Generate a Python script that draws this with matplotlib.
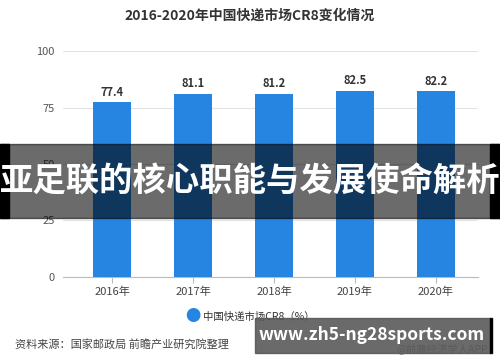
import matplotlib.pyplot as plt
from matplotlib.patches import Rectangle

plt.rcParams['font.family'] = ['Noto Sans CJK SC', 'DejaVu Sans']

# data
years = ['2016年', '2017年', '2018年', '2019年', '2020年']
cr8 = [77.4, 81.1, 81.2, 82.5, 82.2]
yticks = [0, 25, 50, 75, 100]

bar_color = '#2585e0'

fig = plt.figure(figsize=(5, 3.62), dpi=100)
ax = fig.add_axes([0.126, 0.235, 0.83, 0.624])

x = range(len(years))
bars = ax.bar(x, cr8, width=0.47, color=bar_color, zorder=3)
for xi, v in zip(x, cr8):
    ax.text(xi, v + 1.5, f'{v:.1f}', ha='center', va='bottom',
            fontsize=8, fontweight='bold', color='#333333')

ax.set_xlim(-0.605, 4.52)
ax.set_ylim(0, 100)
ax.set_yticks(yticks)
ax.set_xticks(list(x))
ax.set_xticklabels(years)
ax.grid(axis='y', color='#e3e3e3', linewidth=0.8, zorder=0)
for s in ['top', 'right', 'left']:
    ax.spines[s].set_visible(False)
ax.spines['bottom'].set_color('#bbbbbb')
ax.tick_params(axis='y', length=0, labelsize=8, labelcolor='#555555', pad=6)
ax.tick_params(axis='x', length=4, color='#bbbbbb', labelsize=8,
               labelcolor='#444444', pad=3)

fig.text(0.5, 1 - 16 / 362, '2016-2020年中国快递市场CR8变化情况', ha='center',
         va='center', fontsize=10, fontweight='bold', color='#333333')

# legend
fig.text(193 / 500, 1 - 316 / 362, '●', ha='center', va='center',
         fontsize=11, color=bar_color)
fig.text(203 / 500, 1 - 317 / 362, '中国快递市场CR8（%）', ha='left',
         va='center', fontsize=7.5, color='#333333')

fig.text(15 / 500, 1 - 344 / 362, '资料来源：国家邮政局 前瞻产业研究院整理',
         ha='left', va='center', fontsize=8, color='#444444')
fig.text(488 / 500, 1 - 349 / 362, '@前瞻经济学人APP', ha='right',
         va='center', fontsize=7.5, color='#888888')

# overlay banner
fig.patches.append(Rectangle((0, 1 - 218 / 362), 1, 74 / 362,
                             transform=fig.transFigure, color='black',
                             alpha=0.58, zorder=10))
fig.patches.append(Rectangle((0, 1 - 218 / 362), 9 / 500, 74 / 362,
                             transform=fig.transFigure, color='black', zorder=11))
fig.patches.append(Rectangle((490 / 500, 1 - 218 / 362), 10 / 500, 74 / 362,
                             transform=fig.transFigure, color='black', zorder=11))
fig.text(0.5, 1 - 182 / 362, '亚足联的核心职能与发展使命解析', ha='center',
         va='center', fontsize=24, fontweight='bold', color='white', zorder=12)

# url box
fig.patches.append(Rectangle((255 / 500, 1 - 353 / 362), 235 / 500, 35 / 362,
                             transform=fig.transFigure, color='#555555',
                             alpha=0.88, zorder=10))
fig.patches.append(Rectangle((490 / 500, 1 - 353 / 362), 2 / 500, 35 / 362,
                             transform=fig.transFigure, color='black', zorder=11))
fig.text(372 / 500, 1 - 335 / 362, 'www.zh5-ng28sports.com', ha='center',
         va='center', fontsize=12.5, fontweight='bold', color='white', zorder=12)

fig.savefig('out.png', dpi=100)
